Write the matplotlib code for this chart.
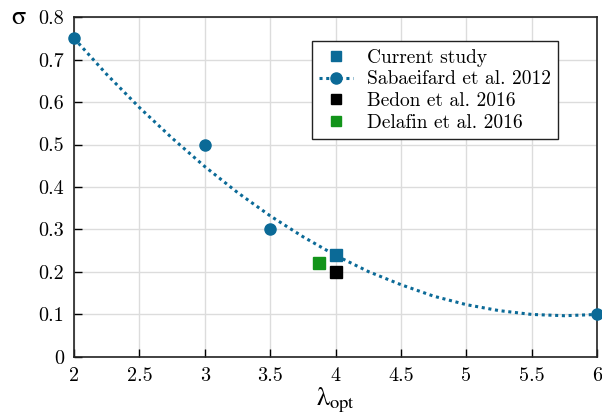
import matplotlib
matplotlib.use("Agg")
import matplotlib.pyplot as plt
from matplotlib.lines import Line2D
from matplotlib.ticker import FormatStrFormatter, MultipleLocator

plt.rcParams["font.family"] = "serif"
plt.rcParams["font.serif"] = ["cmr10"]
plt.rcParams["mathtext.fontset"] = "cm"
plt.rcParams["axes.formatter.use_mathtext"] = True

# Sabaeifard et al. 2012 measurements and their fitted trend
sab_tsr = [2.0, 3.0, 3.5, 6.0]
sab_sigma = [0.75, 0.50, 0.30, 0.10]
fit_tsr = [2.0, 2.25, 2.5, 2.75, 3.0, 3.25, 3.5, 3.75, 4.0,
           4.25, 4.5, 4.75, 5.0, 5.25, 5.5, 5.75, 6.0]
fit_sigma = [0.750, 0.665, 0.587, 0.515, 0.448, 0.387, 0.332, 0.283, 0.239,
             0.201, 0.170, 0.143, 0.123, 0.109, 0.100, 0.097, 0.100]

# single-point studies
cur_tsr, cur_sigma = [4.0], [0.24]
bedon_tsr, bedon_sigma = [4.0], [0.20]
delafin_tsr, delafin_sigma = [3.87], [0.22]

blue = "#0b6a97"
green = "#12941a"

fig = plt.figure(figsize=(6.02, 4.16), dpi=100)
ax = fig.add_axes([0.123, 0.142, 0.869, 0.817])

ax.plot(fit_tsr, fit_sigma, color=blue, linestyle=(0, (1, 1.2)), linewidth=2.2,
        zorder=3)
ax.plot(sab_tsr, sab_sigma, "o", color=blue, markersize=8, zorder=4,
        clip_on=False)
ax.plot(cur_tsr, cur_sigma, "s", color=blue, markersize=8.5, zorder=5)
ax.plot(bedon_tsr, bedon_sigma, "s", color="black", markersize=8.5, zorder=5)
ax.plot(delafin_tsr, delafin_sigma, "s", color=green, markersize=8.5, zorder=5)

ax.set_xlim(2, 6)
ax.set_ylim(0, 0.8)
ax.xaxis.set_major_locator(MultipleLocator(0.5))
ax.yaxis.set_major_locator(MultipleLocator(0.1))
ax.xaxis.set_major_formatter(FormatStrFormatter("%g"))
ax.yaxis.set_major_formatter(FormatStrFormatter("%g"))
ax.tick_params(direction="in", length=6, width=1, labelsize=14.5, pad=7,
               top=False, right=False)
ax.grid(True, color="#dcdcdc", linewidth=1)
ax.set_axisbelow(True)
for s in ax.spines.values():
    s.set_linewidth(1.2)
    s.set_color("#222222")

ax.set_xlabel(r"$\mathrm{\lambda}_{\mathrm{opt}}$", fontsize=19, labelpad=1,
              math_fontfamily="stix")
fig.text(0.032, 0.958, r"$\mathrm{\sigma}$", fontsize=19, ha="center",
         va="center", math_fontfamily="stix")

handles = [
    Line2D([], [], marker="s", linestyle="none", color=blue, markersize=7),
    Line2D([], [], marker="o", linestyle=(0, (1, 1.2)), linewidth=2.2,
           color=blue, markersize=8),
    Line2D([], [], marker="s", linestyle="none", color="black", markersize=7),
    Line2D([], [], marker="s", linestyle="none", color=green, markersize=7),
]
labels = ["Current study", "Sabaeifard et al. 2012", "Bedon et al. 2016",
          "Delafin et al. 2016"]
leg = ax.legend(handles, labels, loc="upper left", bbox_to_anchor=(0.455, 0.929),
                borderaxespad=0, fontsize=14, fancybox=False, framealpha=1,
                edgecolor="#222222", handlelength=1.7, labelspacing=0.2,
                handletextpad=0.75, borderpad=0.38)
leg.get_frame().set_linewidth(1.0)

fig.savefig("out.png", dpi=100)
